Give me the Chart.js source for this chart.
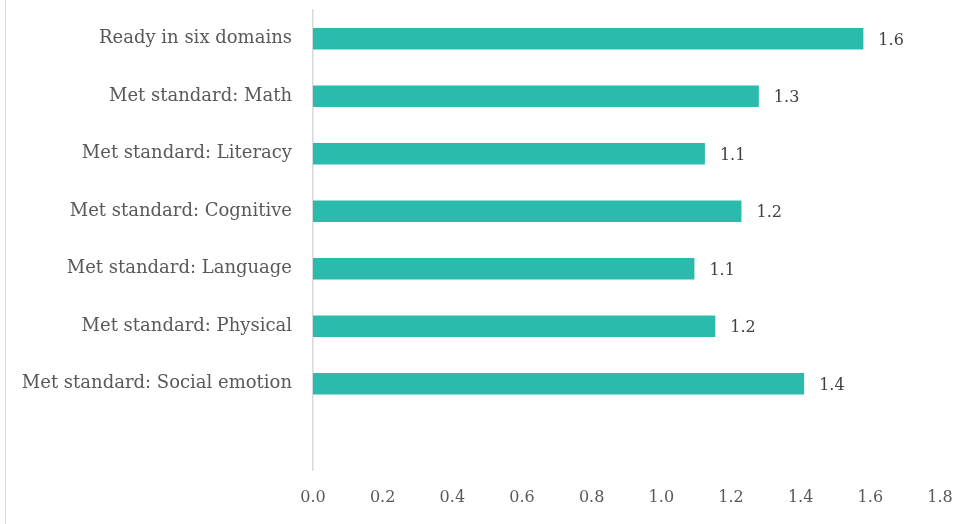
<!DOCTYPE html>
<html>
<head>
<meta charset="utf-8">
<script src="https://cdn.jsdelivr.net/npm/chart.js@4"></script>
<style>
    html, body { margin: 0; padding: 0; background: #fff; }
    #wrap { position: relative; width: 969px; height: 524px; }
    #frame { position: absolute; left: 5px; top: 0; width: 1px; height: 524px; background: #d9d9d9; }
</style>
</head>
<body>
<div id="wrap">
    <canvas id="myChart" width="969" height="524"></canvas>
    <div id="frame"></div>
</div>
<script>
// categories top to bottom, last one is the empty slot under the bars
const categories = [
    'Ready in six domains',
    'Met standard: Math',
    'Met standard: Literacy',
    'Met standard: Cognitive',
    'Met standard: Language',
    'Met standard: Physical',
    'Met standard: Social emotion',
    ''
];
const values = [1.58, 1.28, 1.125, 1.23, 1.095, 1.155, 1.41, null];
const xTicks = [0, 0.2, 0.4, 0.6, 0.8, 1.0, 1.2, 1.4, 1.6, 1.8];

const FONT = 'DejaVu Serif';
const NUM_SIZE = 16;

// draws the value next to each bar
const valueLabels = {
    id: 'valueLabels',
    afterDatasetsDraw(chart) {
        const ctx = chart.ctx;
        const meta = chart.getDatasetMeta(0);
        ctx.save();
        ctx.font = NUM_SIZE + 'px "' + FONT + '"';
        ctx.fillStyle = '#404040';
        ctx.textAlign = 'left';
        ctx.textBaseline = 'middle';
        meta.data.forEach((bar, i) => {
            if (values[i] == null) return;
            ctx.fillText(values[i].toFixed(1), bar.x + 15, bar.y + 2);
        });
        ctx.restore();
    }
};

const ctx = document.getElementById('myChart');
new Chart(ctx, {
    type: 'bar',
    data: {
        labels: categories,
        datasets: [{
            data: values,
            backgroundColor: '#2bbbad',
            barPercentage: 0.74,
            categoryPercentage: 0.5
        }]
    },
    options: {
        indexAxis: 'y',
        responsive: false,
        animation: false,
        layout: { padding: { left: 0, right: 29, top: 10, bottom: 0 } },
        plugins: {
            legend: { display: false },
            tooltip: { enabled: false }
        },
        scales: {
            x: {
                min: 0,
                max: 1.8,
                afterBuildTicks: (scale) => {
                    scale.ticks = xTicks.map(v => ({ value: v }));
                },
                afterFit: (scale) => {
                    scale.height = 54;
                    scale.paddingLeft = 0;
                    scale.paddingRight = 0;
                },
                grid: { display: false, drawTicks: false },
                border: { display: false },
                ticks: {
                    padding: 18,
                    color: '#595959',
                    font: { family: FONT, size: NUM_SIZE },
                    callback: (v) => Number(v).toFixed(1)
                }
            },
            y: {
                afterFit: (scale) => {
                    scale.width = 313;
                    scale.paddingTop = 0;
                    scale.paddingBottom = 0;
                },
                grid: { display: false, drawTicks: false },
                border: { display: true, color: '#d9d9d9', width: 1.5 },
                ticks: {
                    padding: 21,
                    color: '#595959',
                    font: { family: FONT, size: 18 }
                }
            }
        }
    },
    plugins: [valueLabels]
});
</script>
</body>
</html>
